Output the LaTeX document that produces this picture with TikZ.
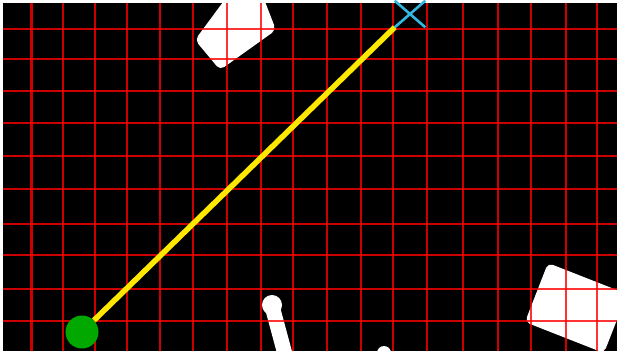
\documentclass[tikz,border=0pt]{standalone}
\usetikzlibrary{shapes.misc}
\definecolor{GridRed}{HTML}{FF0000}
\definecolor{RouteYellow}{HTML}{FFE800}
\definecolor{StartGreen}{HTML}{00A800}
\definecolor{GoalCyan}{HTML}{30B8E0}

\begin{document}
\begin{tikzpicture}[x=1pt,y=-1pt,
  obstacle/.style={fill=white,rounded corners=5pt},
  gridline/.style={GridRed,line width=2.4pt,opacity=0.8},
  startpt/.style={circle,fill=StartGreen,minimum size=33pt,inner sep=0pt},
  goalpt/.style={cross out,draw=GoalCyan,line width=2.6pt,minimum width=28pt,minimum height=24pt,inner sep=0pt},
  route/.style={RouteYellow,line width=5.5pt}]
  \useasboundingbox (0,0) rectangle (617,351);
  % frame
  \fill[white] (0,0) rectangle (617,351);
  \fill[black] (3,3) rectangle (617,351);
  \begin{scope}
    \clip (3,3) rectangle (617,351);
    % obstacles
    \fill[obstacle] (195,40) -- (226,-2) -- (262,-6) -- (276,30) -- (220,70) -- cycle;
    \fill[obstacle] (548,263) -- (627,294) -- (604,353) -- (525,322) -- cycle;
    \draw[white,line width=15pt,line cap=round] (272,306) -- (286,358);
    \fill[white] (272,305) circle (10pt);
    \fill[white] (384,353) circle (7pt);
    % grid
    \foreach \gx in {31.5,63,95,127,160,193,227,261,293,327,361,393,427,463,498,531,566,597}
      \draw[gridline] (\gx,0) -- (\gx,351);
    \foreach \gy in {29,59,91,123,156,189,224,255,289,321}
      \draw[gridline] (0,\gy) -- (617,\gy);
  \end{scope}
  % start, goal and route
  \node[startpt] (start) at (82,332) {};
  \node[goalpt] (goal) at (410,14) {};
  \draw[route] (start) -- (goal.south west);
\end{tikzpicture}
\end{document}
